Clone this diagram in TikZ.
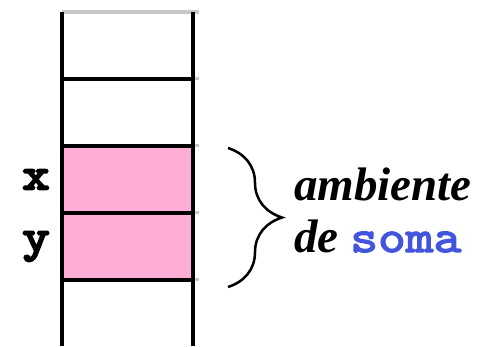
\documentclass[tikz,border=0pt]{standalone}
\usepackage{fontspec}
\setmainfont{Liberation Serif}
\newfontfamily\codefont{lmmono10-regular}[Extension=.otf, FakeBold=5, FakeStretch=1.15]
\newfontfamily\namefont{lmmono10-regular}[Extension=.otf, FakeBold=3, FakeStretch=1.15]
\usetikzlibrary{decorations.pathreplacing, positioning}
\usepackage{xcolor}
\definecolor{cellPink}{RGB}{255,173,214}
\definecolor{nameBlue}{RGB}{68,85,221}
\definecolor{tickGray}{RGB}{200,200,200}
\tikzset{
    x=1pt, y=1pt,
    % Stack
    cell/.style={rectangle, draw=none, inner sep=0pt,
                 minimum width=131pt, minimum height=67pt},
    cellUsed/.style={cell, fill=cellPink},
    wall/.style={line width=4pt, black},
    divider/.style={line width=4pt, black},
    tick/.style={line width=3pt, tickGray},
    % Labels
    varName/.style={font=\fontsize{45}{45}\selectfont\codefont, inner sep=0pt},
    envText/.style={font=\fontsize{47}{52}\selectfont\bfseries\itshape, inner sep=0pt, anchor=base west},
    envBrace/.style={decorate, decoration={brace, amplitude=54pt}, line width=2.5pt}
}

\begin{document}
\begin{tikzpicture}
\useasboundingbox (0,0) rectangle (479,346);

\node[cell] (c1) at (127.5,300.5) {};
\node[cell] (c2) at (127.5,233.5) {};
\node[cellUsed] (cx) at (127.5,166.5) {};
\node[cellUsed] (cy) at (127.5,99.5) {};
\node[cell, minimum height=66pt] (c5) at (127.5,33) {};

% top edge and small marks on the right
\draw[tick, line width=4pt] (c1.north west) -- ([xshift=6pt]c1.north east);
\draw[tick] (c2.north east) -- ++(6,0);
\draw[tick] (cx.north east) -- ++(6,0);
\draw[tick] (cy.north east) -- ++(6,0);
\draw[tick] (c5.north east) -- ++(6,0);

\draw[divider] (c2.north west) -- (c2.north east);
\draw[divider] (cx.north west) -- (cx.north east);
\draw[divider] (cy.north west) -- (cy.north east);
\draw[divider] (c5.north west) -- (c5.north east);

\draw[wall] (c1.north west) -- (c5.south west);
\draw[wall] (c1.north east) -- (c5.south east);

\node[varName, left=12pt of cx] (x) {x};
\node[varName, left=12pt of cy] (y) {y};

\node[envText] (amb) at (294,146) {ambiente};
\node[envText] (de) at ([yshift=-52pt]amb.base west) {de \textcolor{nameBlue}{\fontsize{46}{52}\selectfont\namefont soma}};

\coordinate (braceTop) at (228,198);
\coordinate (braceBot) at (228,59);
\draw[envBrace] (braceTop) -- (braceBot);

\end{tikzpicture}
\end{document}
